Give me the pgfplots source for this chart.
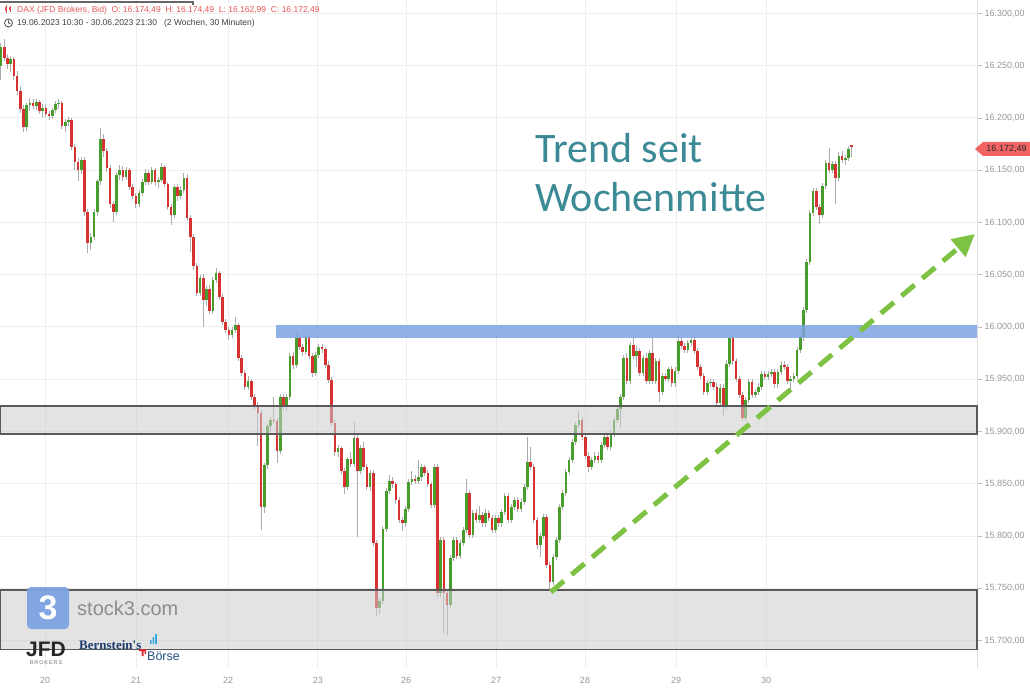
\documentclass[border=0pt]{standalone}
\usepackage{fontspec}
\setmainfont{Liberation Sans}
\newfontfamily\trendfont{Carlito}
\newfontfamily\seriffont{Liberation Serif}
\usepackage{pgfplots}
\pgfplotsset{compat=1.18}
\usepackage{pgfplotstable}
\usetikzlibrary{arrows.meta}

\definecolor{cred}{RGB}{214,56,56}
\definecolor{cgreen}{RGB}{74,156,46}
\definecolor{wickc}{RGB}{172,172,172}
\definecolor{gridc}{RGB}{238,238,238}
\definecolor{lblc}{RGB}{150,150,150}
\definecolor{trendc}{RGB}{60,138,150}
\definecolor{arrowg}{RGB}{125,194,66}
\definecolor{bandblue}{RGB}{125,163,226}
\definecolor{hdrred}{RGB}{232,84,84}
\definecolor{tagred}{RGB}{242,100,100}
\definecolor{navy}{RGB}{30,60,110}
\definecolor{logored}{RGB}{220,40,50}
\definecolor{logocyan}{RGB}{60,170,225}

\pgfplotstableread{
o h l c
16250 16272 16236 16268
16268 16276 16255 16257
16257 16261 16247 16252
16252 16259 16244 16256
16256 16258 16236 16240
16240 16245 16222 16226
16226 16231 16205 16209
16209 16212 16187 16191
16191 16214 16188 16212
16212 16219 16207 16214
16214 16218 16209 16211
16211 16218 16208 16215
16215 16217 16204 16207
16207 16213 16200 16210
16210 16213 16201 16204
16204 16207 16198 16202
16202 16210 16199 16208
16208 16216 16205 16213
16213 16218 16209 16214
16214 16216 16189 16192
16192 16199 16187 16196
16196 16201 16192 16198
16198 16200 16169 16172
16172 16175 16150 16158
16158 16162 16140 16150
16150 16163 16146 16160
16160 16163 16106 16110
16110 16113 16071 16080
16080 16090 16074 16086
16086 16113 16083 16110
16110 16142 16106 16140
16140 16190 16136 16180
16180 16185 16163 16168
16168 16171 16148 16152
16152 16155 16114 16118
16118 16121 16100 16110
16110 16148 16107 16145
16145 16155 16141 16150
16150 16154 16140 16144
16144 16153 16141 16150
16150 16152 16131 16134
16134 16137 16122 16125
16125 16128 16114 16118
16118 16131 16115 16128
16128 16142 16125 16139
16139 16151 16136 16147
16147 16150 16136 16139
16139 16153 16137 16150
16150 16152 16135 16139
16139 16144 16133 16141
16141 16157 16139 16153
16153 16155 16134 16137
16137 16139 16112 16115
16115 16118 16098 16107
16107 16137 16104 16134
16134 16137 16121 16125
16125 16135 16122 16131
16131 16147 16128 16143
16143 16146 16101 16104
16104 16107 16072 16086
16086 16089 16055 16058
16058 16061 16030 16033
16033 16050 16030 16047
16047 16051 16000 16026
16026 16039 16020 16036
16036 16040 16012 16015
16015 16048 16012 16045
16045 16056 16042 16052
16052 16054 16026 16029
16029 16032 16002 16005
16005 16008 15994 15997
15997 16000 15988 15992
15992 16000 15989 15997
15997 16010 15994 16002
16002 16004 15967 15970
15970 15973 15953 15956
15956 15959 15940 15943
15943 15953 15940 15948
15948 15950 15930 15933
15933 15936 15921 15924
15924 15928 15886 15918
15918 15921 15806 15828
15828 15870 15822 15868
15868 15907 15864 15905
15905 15914 15900 15911
15911 15933 15907 15910
15910 15913 15870 15881
15881 15936 15878 15933
15933 15936 15921 15925
15925 15936 15920 15933
15933 15975 15930 15972
15972 15976 15960 15964
15964 15995 15961 15989
15989 15992 15978 15981
15981 15984 15972 15976
15976 15993 15973 15990
15990 15992 15969 15972
15972 15975 15952 15956
15956 15976 15953 15973
15973 15984 15970 15981
15981 15984 15975 15979
15979 15981 15961 15964
15964 15967 15946 15949
15949 15952 15905 15908
15908 15911 15877 15880
15880 15887 15876 15884
15884 15886 15859 15862
15862 15865 15840 15847
15847 15876 15844 15874
15874 15880 15866 15869
15869 15909 15866 15894
15894 15897 15799 15862
15862 15887 15859 15884
15884 15890 15863 15866
15866 15869 15844 15847
15847 15863 15843 15860
15860 15863 15790 15793
15793 15796 15723 15731
15731 15741 15725 15738
15738 15810 15735 15807
15807 15846 15804 15843
15843 15858 15840 15853
15853 15856 15846 15850
15850 15852 15831 15834
15834 15837 15812 15815
15815 15818 15805 15812
15812 15829 15809 15826
15826 15855 15823 15852
15852 15862 15849 15855
15855 15858 15850 15853
15853 15873 15850 15856
15856 15869 15853 15866
15866 15868 15857 15860
15860 15863 15847 15850
15850 15852 15827 15830
15830 15869 15827 15866
15866 15869 15742 15745
15745 15799 15742 15796
15796 15799 15707 15745
15745 15748 15705 15734
15734 15782 15731 15779
15779 15799 15776 15796
15796 15799 15778 15781
15781 15796 15778 15793
15793 15809 15790 15806
15806 15855 15803 15841
15841 15844 15798 15801
15801 15825 15798 15822
15822 15826 15812 15815
15815 15829 15812 15820
15820 15823 15809 15812
15812 15826 15809 15822
15822 15825 15814 15817
15817 15820 15803 15806
15806 15820 15803 15817
15817 15820 15809 15812
15812 15826 15809 15823
15823 15841 15820 15838
15838 15841 15812 15815
15815 15831 15812 15828
15828 15837 15825 15834
15834 15837 15823 15826
15826 15836 15823 15833
15833 15850 15830 15847
15847 15895 15844 15871
15871 15885 15863 15866
15866 15869 15812 15815
15815 15818 15788 15791
15791 15803 15780 15800
15800 15821 15797 15818
15818 15821 15769 15772
15772 15775 15748 15756
15756 15783 15753 15780
15780 15799 15777 15796
15796 15831 15793 15828
15828 15844 15825 15841
15841 15864 15838 15861
15861 15876 15858 15873
15873 15893 15870 15890
15890 15909 15887 15906
15906 15920 15903 15911
15911 15914 15892 15895
15895 15898 15874 15877
15877 15880 15861 15866
15866 15876 15863 15873
15873 15880 15870 15877
15877 15880 15870 15873
15873 15890 15870 15887
15887 15898 15884 15895
15895 15898 15882 15885
15885 15901 15882 15898
15898 15914 15895 15911
15911 15925 15908 15922
15922 15936 15904 15933
15933 15973 15930 15970
15970 15975 15945 15948
15948 15986 15945 15983
15983 15990 15969 15972
15972 15982 15962 15977
15977 15980 15953 15956
15956 15973 15953 15970
15970 15975 15945 15948
15948 15978 15945 15975
15975 15989 15945 15948
15948 15970 15945 15967
15967 15970 15928 15938
15938 15956 15935 15953
15953 15956 15948 15950
15950 15962 15947 15960
15960 15963 15943 15946
15946 15962 15943 15958
15958 15992 15955 15987
15987 15990 15979 15982
15982 15985 15975 15978
15978 15988 15975 15985
15985 15992 15982 15988
15988 15991 15974 15977
15977 15980 15959 15962
15962 15965 15950 15953
15953 15956 15935 15938
15938 15949 15935 15946
15946 15950 15943 15947
15947 15950 15940 15943
15943 15946 15924 15927
15927 15945 15924 15942
15942 15945 15915 15925
15925 15968 15922 15965
15965 15993 15962 15989
15989 15991 15964 15967
15967 15970 15947 15950
15950 15953 15932 15935
15935 15938 15910 15913
15913 15933 15910 15930
15930 15950 15927 15947
15947 15950 15932 15935
15935 15941 15932 15938
15938 15946 15935 15943
15943 15958 15940 15955
15955 15958 15949 15952
15952 15958 15949 15955
15955 15960 15952 15957
15957 15960 15942 15945
15945 15960 15942 15957
15957 15967 15954 15964
15964 15967 15959 15962
15962 15965 15945 15948
15948 15953 15941 15950
15950 15956 15947 15953
15953 15981 15950 15978
15978 15993 15975 15990
15990 16019 15987 16016
16016 16065 16013 16062
16062 16112 16059 16109
16109 16133 16106 16130
16130 16133 16112 16115
16115 16118 16099 16107
16107 16138 16104 16135
16135 16160 16132 16157
16157 16171 16147 16150
16150 16159 16147 16156
16156 16159 16118 16143
16143 16167 16140 16164
16164 16168 16157 16160
16160 16165 16155 16162
16162 16173 16159 16170
16174.49 16174.49 16162.99 16172.49
}\candles

\begin{document}
\begin{tikzpicture}[x=1pt,y=1pt]
\path[use as bounding box] (0pt,0pt) rectangle (1030pt,688pt);
\begin{axis}[
  at={(0pt,688pt)}, anchor=north west,
  scale only axis, width=977pt, height=668pt,
  xmin=-0.3115, xmax=304.05, ymin=15673.7, ymax=16312.9,
  clip=false,
  axis x line*=bottom, axis y line*=right,
  x axis line style={draw=none},
  y axis line style={draw=black!13, line width=1pt, -},
  xtick={13.71,42.06,70.72,98.75,126.17,154.21,181.93,210.28,238.32},
  xticklabels={20,21,22,23,26,27,28,29,30},
  ytick={15700,15750,15800,15850,15900,15950,16000,16050,16100,16150,16200,16250,16300},
  yticklabels={{15.700,00},{15.750,00},{15.800,00},{15.850,00},{15.900,00},{15.950,00},{16.000,00},{16.050,00},{16.100,00},{16.150,00},{16.200,00},{16.250,00},{16.300,00}},
  grid=major, major grid style={draw=gridc, line width=1pt},
  x tick style={draw=none},
  y tick style={draw=black!25, line width=0.8pt},
  major tick length=5pt,
  tick align=outside,
  ticklabel style={font=\fontsize{9}{10}\selectfont, text=lblc},
  yticklabel style={anchor=west, xshift=-1pt},
  xticklabel style={yshift=-1pt},
  colormap={ud}{rgb255=(214,50,50) rgb255=(72,156,44)},
  point meta min=0, point meta max=1,
]
% wicks
\addplot[draw=wickc, line width=1pt, no marks,
  quiver={u=0, v=\thisrow{h}-\thisrow{l}}]
  table[x expr=\coordindex, y=l] {\candles};
% bodies
\addplot[line width=2.6pt, no marks,
  point meta=explicit,
  quiver={u=0, v=\thisrow{c}-\thisrow{o}, colored}]
  table[x expr=\coordindex, y=o, meta expr={\thisrow{c}>\thisrow{o}}] {\candles};

% zones
\fill[black!20, opacity=0.55] (axis cs:-0.3115,15897.6) rectangle (axis cs:304.05,15924.4);
\draw[black!65, line width=1.3pt] (axis cs:-0.3115,15897.6) rectangle (axis cs:304.05,15924.4);
\fill[black!20, opacity=0.55] (axis cs:-0.3115,15691.5) rectangle (axis cs:304.05,15748.3);
\draw[black!65, line width=1.3pt] (axis cs:-0.3115,15691.5) rectangle (axis cs:304.05,15748.3);
\fill[bandblue, opacity=0.85] (axis cs:85.67,15989.5) rectangle (axis cs:304.05,16002);

% trend arrow
\addplot[arrowg, line width=5pt, no marks, dash pattern=on 17pt off 10pt,
  -{Triangle[length=22pt,width=22pt]}]
  coordinates {(171.3,15746.4) (303.4,16089)};

% text
\node[anchor=base west, inner sep=0pt, text=trendc, font=\trendfont\fontsize{42}{46}\selectfont]
  at (axis cs:166.4,16157) {Trend seit};
\node[anchor=base west, inner sep=0pt, text=trendc, font=\trendfont\fontsize{42}{46}\selectfont]
  at (axis cs:166.4,16110.5) {Wochenmitte};
\end{axis}

% header
\draw[black!60, line width=1.5pt] (0,686) -- (193,686) -- (193,683);
\draw[hdrred, line width=0.8pt] (6,675) -- (6,683) (10,676) -- (10,682);
\fill[hdrred] (5,677) rectangle (7,681);
\fill[hdrred] (9,678) rectangle (11,680.5);
\node[anchor=west, inner sep=0pt, text=hdrred, font=\fontsize{8.5}{10}\selectfont] at (17,678)
  {DAX (JFD Brokers, Bid)\ \ O: 16.174,49\ \ H: 16.174,49\ \ L: 16.162,99\ \ C: 16.172,49};
\draw[black!70, line width=0.8pt] (8.5,665) circle (4);
\draw[black!70, line width=0.8pt] (8.5,665) -- (8.5,667.5) (8.5,665) -- (10.5,664);
\node[anchor=west, inner sep=0pt, text=black!75, font=\fontsize{8.5}{10}\selectfont] at (17,665)
  {19.06.2023 10:30 - 30.06.2023 21:30\ \ \ (2 Wochen, 30 Minuten)};

% price tag
\fill[tagred] (975,539) -- (983,546) -- (1030,546) -- (1030,532) -- (983,532) -- cycle;
\node[text=black!85, font=\fontsize{9}{10}\selectfont, inner sep=0pt] at (1006.5,539) {16.172,49};

% logos
\fill[bandblue, opacity=0.95, rounded corners=4pt] (27,59) rectangle (69,101);
\node[text=white, font=\bfseries\fontsize{34}{34}\selectfont, inner sep=0pt] at (48,80) {3};
\node[anchor=west, inner sep=0pt, text=black!45, font=\fontsize{20}{22}\selectfont] at (77,80) {stock3.com};
\node[inner sep=0pt, text=black!85, font=\bfseries\fontsize{21}{22}\selectfont] at (46,39) {JFD};
\node[inner sep=0pt, text=black!55, font=\fontsize{5.5}{6}\selectfont] at (46,25) {B\,R\,O\,K\,E\,R\,S};
\node[anchor=west, inner sep=0pt, text=navy, font=\seriffont\bfseries\fontsize{13}{14}\selectfont] at (79,43) {Bernstein's};
\fill[logocyan] (150,44) rectangle (151.6,48) (152.6,44) rectangle (154.2,51) (155.2,44) rectangle (156.8,54);
\fill[logored] (139,37) rectangle (146,39) (141.5,32) rectangle (143.5,37) (144.5,34) rectangle (146,37);
\node[anchor=west, inner sep=0pt, text=navy!80!logocyan, font=\fontsize{12.5}{14}\selectfont] at (147,32) {Börse};
\end{tikzpicture}
\end{document}
